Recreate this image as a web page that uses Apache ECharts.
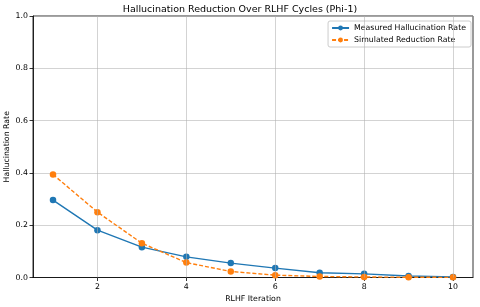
<!DOCTYPE html>
<html><head><meta charset="utf-8">
<script src="https://cdn.jsdelivr.net/npm/echarts@6/dist/echarts.min.js"></script>
<style>html,body{margin:0;padding:0;background:#fff}#c{width:480px;height:307px}</style>
</head><body><div id="c"></div>
<script>
const iterations = [1,2,3,4,5,6,7,8,9,10];
const measured = [0.296,0.181,0.116,0.079,0.055,0.036,0.018,0.014,0.006,0.002];
const simulated = [0.394,0.250,0.131,0.057,0.023,0.009,0.004,0.002,0.001,0.0005];
const xTicks = [2,4,6,8,10];
const yTicks = [0,0.2,0.4,0.6,0.8,1.0];

const F = 'DejaVu Sans';
const chart = echarts.init(document.getElementById('c'));
chart.setOption({
  animation:false,
  backgroundColor:'#fff',
  title:{text:'Hallucination Reduction Over RLHF Cycles (Phi-1)',left:'center',top:0,
    textStyle:{fontFamily:F,fontSize:9.5,fontWeight:'normal',color:'#000'}},
  legend:{orient:'vertical',right:9,top:21,itemWidth:17,itemHeight:6,itemGap:4,
    padding:[3,5,3,3],borderColor:'#ccc',borderWidth:1,borderRadius:2,backgroundColor:'rgba(255,255,255,0.8)',
    textStyle:{fontFamily:F,fontSize:7.8,color:'#000'},
    data:['Measured Hallucination Rate','Simulated Reduction Rate']},
  grid:{left:33,right:7,top:16,bottom:29.5,outerBoundsMode:'none',containLabel:false,show:true,borderColor:'#000',borderWidth:0.8,backgroundColor:'transparent'},
  xAxis:{type:'value',min:0.55,max:10.45,
    name:'RLHF Iteration',nameLocation:'middle',nameGap:16,
    nameTextStyle:{fontFamily:F,fontSize:7.8,color:'#000'},
    axisLine:{show:true,lineStyle:{color:'#000',width:0.8}},
    axisTick:{show:true,length:3.5,lineStyle:{color:'#000',width:0.8},customValues:xTicks},
    axisLabel:{fontFamily:F,fontSize:7.8,color:'#000',margin:5,customValues:xTicks,formatter:v=>String(v)},
    splitLine:{show:false}},
  yAxis:{type:'value',min:0,max:1,interval:0.2,
    name:'Hallucination Rate',nameLocation:'middle',nameGap:22,nameMoveOverlap:false,
    nameTextStyle:{fontFamily:F,fontSize:7.8,color:'#000'},
    axisLine:{show:true,lineStyle:{color:'#000',width:0.8}},
    axisTick:{show:true,length:3.5,lineStyle:{color:'#000',width:0.8}},
    axisLabel:{fontFamily:F,fontSize:7.8,color:'#000',margin:5,formatter:v=>v.toFixed(1)},
    splitLine:{show:true,lineStyle:{color:'#b0b0b0',width:0.8,opacity:0.7}}},
  series:[
    {name:'Measured Hallucination Rate',type:'line',data:iterations.map((x,i)=>[x,measured[i]]),
      symbol:'circle',symbolSize:6.5,itemStyle:{color:'#1f77b4'},lineStyle:{color:'#1f77b4',width:1.4},z:3,
      markLine:{silent:true,symbol:'none',label:{show:false},animation:false,
        lineStyle:{color:'#b0b0b0',width:0.8,type:'solid',opacity:0.7},
        data:xTicks.map(v=>({xAxis:v}))}},
    {name:'Simulated Reduction Rate',type:'line',data:iterations.map((x,i)=>[x,simulated[i]]),
      symbol:'circle',symbolSize:6.5,itemStyle:{color:'#ff7f0e'},lineStyle:{color:'#ff7f0e',width:1.4,type:[4,2]},z:4}
  ]
});
</script></body></html>
